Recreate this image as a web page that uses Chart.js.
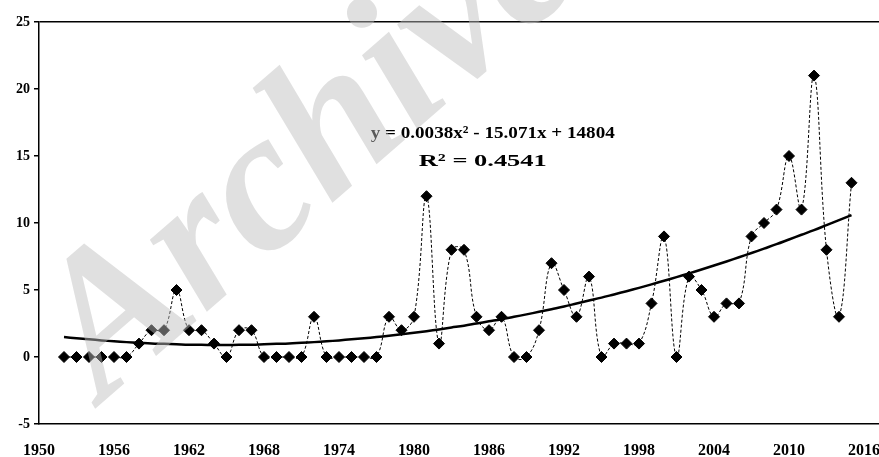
<!DOCTYPE html>
<html>
<head>
<meta charset="utf-8">
<script src="https://cdn.jsdelivr.net/npm/chart.js@4.4.1/dist/chart.umd.min.js"></script>
<style>
  html, body { margin: 0; padding: 0; background: #fff; overflow: hidden; }
  /* plot runs past the right edge of the window, like the cropped original */
  #wrap { width: 920px; height: 457px; position: relative; }
</style>
</head>
<body>
<div id="wrap"><canvas id="chart"></canvas></div>
<script>
// yearly values
const years = [1952, 1953, 1954, 1955, 1956, 1957, 1958, 1959, 1960, 1961,
               1962, 1963, 1964, 1965, 1966, 1967, 1968, 1969, 1970, 1971,
               1972, 1973, 1974, 1975, 1976, 1977, 1978, 1979, 1980, 1981,
               1982, 1983, 1984, 1985, 1986, 1987, 1988, 1989, 1990, 1991,
               1992, 1993, 1994, 1995, 1996, 1997, 1998, 1999, 2000, 2001,
               2002, 2003, 2004, 2005, 2006, 2007, 2008, 2009, 2010, 2011,
               2012, 2013, 2014, 2015];
const counts = [0, 0, 0, 0, 0, 0, 1, 2, 2, 5,
                2, 2, 1, 0, 2, 2, 0, 0, 0, 0,
                3, 0, 0, 0, 0, 0, 3, 2, 3, 12,
                1, 8, 8, 3, 2, 3, 0, 0, 2, 7,
                5, 3, 6, 0, 1, 1, 1, 4, 9, 0,
                6, 5, 3, 4, 4, 9, 10, 11, 15, 11,
                21, 8, 3, 13];
// polynomial trendline as it sits in the picture
const trend = [1.49, 1.40, 1.32, 1.24, 1.17, 1.11, 1.06, 1.01, 0.98, 0.95,
               0.92, 0.91, 0.90, 0.90, 0.91, 0.92, 0.95, 0.98, 1.01, 1.06,
               1.11, 1.17, 1.24, 1.32, 1.40, 1.49, 1.59, 1.70, 1.81, 1.93,
               2.06, 2.20, 2.34, 2.50, 2.66, 2.82, 3.00, 3.18, 3.37, 3.57,
               3.77, 3.99, 4.21, 4.43, 4.67, 4.91, 5.16, 5.42, 5.69, 5.96,
               6.24, 6.53, 6.83, 7.13, 7.44, 7.76, 8.09, 8.42, 8.77, 9.12,
               9.47, 9.84, 10.21, 10.59];
const xTicks = [1950, 1956, 1962, 1968, 1974, 1980, 1986, 1992, 1998, 2004, 2010, 2016];
const yTicks = [-5, 0, 5, 10, 15, 20, 25];
const eqText = 'y = 0.0038x² - 15.071x + 14804';
const r2Text = 'R² = 0.4541';
const watermark = 'Archive';

const serif = '"Liberation Serif", "Times New Roman", serif';

// draw one line of text squeezed/stretched to a given width
function fitText(ctx, text, cx, cy, w) {
    const k = w / ctx.measureText(text).width;
    ctx.save();
    ctx.translate(cx, cy);
    ctx.scale(k, 1);
    ctx.fillText(text, 0, 0);
    ctx.restore();
}

// equation label, centred in the upper middle of the plot
const eqPlugin = {
    id: 'eqLabel',
    afterDatasetsDraw(chart) {
        const ctx = chart.ctx;
        const x = chart.scales.x, y = chart.scales.y;
        ctx.save();
        ctx.fillStyle = '#000';
        ctx.textAlign = 'center';
        ctx.textBaseline = 'middle';
        ctx.font = 'bold 17px ' + serif;
        fitText(ctx, eqText, x.getPixelForValue(1986.3), y.getPixelForValue(16.7), 244);
        fitText(ctx, r2Text, x.getPixelForValue(1985.5), y.getPixelForValue(14.6), 128);
        ctx.restore();
    }
};

// the grey "Archive" stamp laid over everything
const stampPlugin = {
    id: 'stamp',
    afterDraw(chart) {
        const ctx = chart.ctx;
        ctx.save();
        ctx.translate(103, 402);
        ctx.rotate(-41 * Math.PI / 180);
        ctx.font = 'italic bold 200px ' + serif;
        ctx.fillStyle = 'rgba(190,190,190,0.47)';
        ctx.textBaseline = 'alphabetic';
        ctx.fillText(watermark, 0, 0);
        ctx.restore();
    }
};

new Chart(document.getElementById('chart').getContext('2d'), {
    type: 'line',
    data: {
        datasets: [{
            data: years.map((yr, i) => ({ x: yr, y: counts[i] })),
            borderColor: '#000',
            borderWidth: 1,
            borderDash: [3, 2],
            tension: 0.4,
            pointStyle: 'rectRot',
            pointRadius: 5.5,
            pointBackgroundColor: '#000',
            pointBorderColor: '#000',
            pointBorderWidth: 1
        }, {
            data: years.map((yr, i) => ({ x: yr, y: trend[i] })),
            borderColor: '#000',
            borderWidth: 2.5,
            tension: 0.4,
            pointRadius: 0
        }]
    },
    options: {
        responsive: true,
        maintainAspectRatio: false,
        animation: false,
        layout: { padding: { top: 22, right: 15, left: 0, bottom: 0 } },
        plugins: { legend: { display: false }, tooltip: { enabled: false } },
        scales: {
            x: {
                type: 'linear',
                min: 1950,
                max: 2019.28,
                afterBuildTicks: s => { s.ticks = xTicks.map(v => ({ value: v })); },
                afterFit: s => { s.height = 33; },
                grid: { display: false, drawTicks: false },
                border: { display: true, color: '#000', width: 1.5 },
                ticks: {
                    color: '#000',
                    padding: 17,
                    maxRotation: 0,
                    autoSkip: false,
                    font: { family: serif, size: 16, weight: 'bold' },
                    callback: v => String(v)
                }
            },
            y: {
                min: -5,
                max: 25,
                afterBuildTicks: s => { s.ticks = yTicks.map(v => ({ value: v })); },
                afterFit: s => { s.width = 39; },
                grid: {
                    color: c => (c.tick && c.tick.value === 25 ? '#000' : 'rgba(0,0,0,0)'),
                    tickColor: '#000',
                    tickLength: 5,
                    lineWidth: 1.5
                },
                border: { display: true, color: '#000', width: 1.5 },
                ticks: {
                    color: '#000',
                    padding: 4,
                    font: { family: serif, size: 14, weight: 'bold' }
                }
            }
        }
    },
    plugins: [eqPlugin, stampPlugin]
});
</script>
</body>
</html>
